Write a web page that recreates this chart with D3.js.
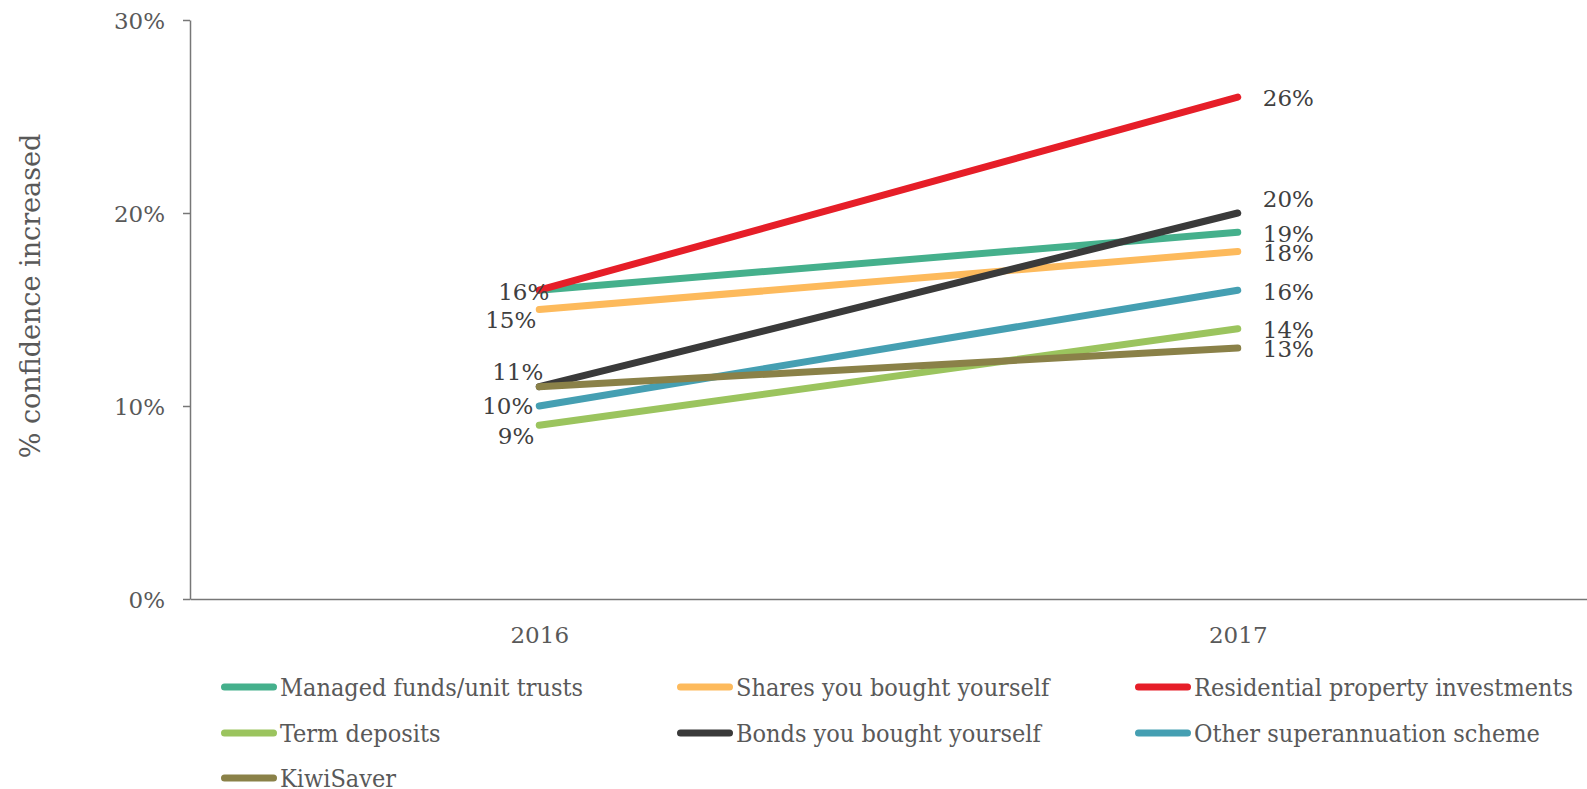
<!DOCTYPE html>
<html><head><meta charset="utf-8">
<script src="https://cdn.jsdelivr.net/npm/d3@7"></script>
<style>
html,body{margin:0;padding:0;background:#fff;}
svg{display:block;}
</style></head>
<body>
<svg id="chart" width="1587" height="789"></svg>
<script>
// ---- data ----
const categories = ["2016", "2017"];
const seriesNames = [
  "Managed funds/unit trusts",
  "Shares you bought yourself",
  "Residential property investments",
  "Term deposits",
  "Bonds you bought yourself",
  "Other superannuation scheme",
  "KiwiSaver"
];
const values2016 = [16, 15, 16, 9, 11, 10, 11];
const values2017 = [19, 18, 26, 14, 20, 16, 13];
const yTickValues = [0, 10, 20, 30];
const yTitle = "% confidence increased";

// ---- style ----
const colors = ["#45B08C", "#FDBA5C", "#E61E28", "#9BC45E", "#3A3A3A", "#459FB2", "#8A8148"];
// label placement per series: [2016, 2017]; null = hidden
const labelStyle2016 = [null, {dx:10, dy:10.5-9}, {dx:10, dy:1.5}, {dx:-5, dy:10}, {dx:4, dy:-15}, {dx:-6, dy:0}, null];
labelStyle2016[1] = {dx:-3, dy:10.5};
const labelStyle2017 = [{dx:25, dy:1}, {dx:25, dy:1}, {dx:25, dy:1}, {dx:25, dy:1.2}, {dx:25, dy:-14.7}, {dx:25, dy:2}, {dx:25, dy:0.2}];

const svg = d3.select("#chart");
const W = 1587, H = 789;
const axisX = 190, axisY = 599, topY = 20;

const x = d3.scalePoint().domain(categories).range([axisX, W]).padding(0.5);
const y = d3.scaleLinear().domain([0, 30]).range([axisY, topY]);

const axisColor = "#777777";
const serif = "'DejaVu Serif', serif";

// Y axis
const yAxis = svg.append("g").attr("transform", `translate(${axisX},0)`)
  .call(d3.axisLeft(y).tickValues(yTickValues).tickFormat(d => d + "%").tickSizeInner(7).tickSizeOuter(0).tickPadding(18));
yAxis.select(".domain").attr("stroke", axisColor).attr("stroke-width", 1.5);
yAxis.selectAll(".tick line").attr("stroke", axisColor).attr("stroke-width", 1.5);
yAxis.selectAll(".tick text").attr("font-family", serif).attr("font-size", 23).attr("fill", "#595959").attr("dy", "0.36em");

// X axis
const xAxis = svg.append("g").attr("transform", `translate(0,${axisY})`)
  .call(d3.axisBottom(x).tickSizeInner(0).tickSizeOuter(0).tickPadding(28));
xAxis.select(".domain").attr("stroke", axisColor).attr("stroke-width", 1.5);
xAxis.selectAll(".tick text").attr("font-family", serif).attr("font-size", 23).attr("fill", "#595959");

// Y title
svg.append("text")
  .attr("transform", `translate(30,296) rotate(-90)`)
  .attr("text-anchor", "middle").attr("dy", "0.36em")
  .attr("font-family", serif).attr("font-size", 27).attr("fill", "#595959")
  .text(yTitle);

// Series
const series = seriesNames.map((name, i) => ({
  name, color: colors[i], i,
  points: [{cat: categories[0], v: values2016[i]}, {cat: categories[1], v: values2017[i]}]
}));

const line = d3.line().x(d => x(d.cat)).y(d => y(d.v));
svg.append("g").selectAll("path").data(series).join("path")
  .attr("d", d => line(d.points))
  .attr("fill", "none").attr("stroke", d => d.color)
  .attr("stroke-width", 7).attr("stroke-linecap", "round").attr("stroke-linejoin", "round");

// Data labels
const lbl = svg.append("g").attr("font-family", serif).attr("font-size", 23).attr("fill", "#404040");
series.forEach(s => {
  const l0 = labelStyle2016[s.i];
  if (l0) {
    lbl.append("text").attr("x", x(categories[0]) + l0.dx).attr("y", y(values2016[s.i]) + l0.dy)
      .attr("dy", "0.36em").attr("text-anchor", "end").text(values2016[s.i] + "%");
  }
  const l1 = labelStyle2017[s.i];
  if (l1) {
    lbl.append("text").attr("x", x(categories[1]) + l1.dx).attr("y", y(values2017[s.i]) + l1.dy)
      .attr("dy", "0.36em").attr("text-anchor", "start").text(values2017[s.i] + "%");
  }
});

// Legend
const legCols = [221, 677, 1135];
const legRows = [687, 733, 778];
const leg = svg.append("g");
series.forEach((s, i) => {
  const cx = legCols[i % 3], cy = legRows[Math.floor(i / 3)];
  const g = leg.append("g").attr("transform", `translate(${cx},${cy})`);
  g.append("line").attr("x1", 3.5).attr("x2", 52.5).attr("y1", 0).attr("y2", 0)
    .attr("stroke", s.color).attr("stroke-width", 7).attr("stroke-linecap", "round");
  g.append("text").attr("x", 59).attr("dy", "0.36em")
    .attr("font-family", "'DejaVu Serif Condensed', 'DejaVu Serif', serif")
    .style("font-stretch", "condensed")
    .attr("font-size", 25).attr("fill", "#595959").text(s.name);
});
</script>
</body></html>
